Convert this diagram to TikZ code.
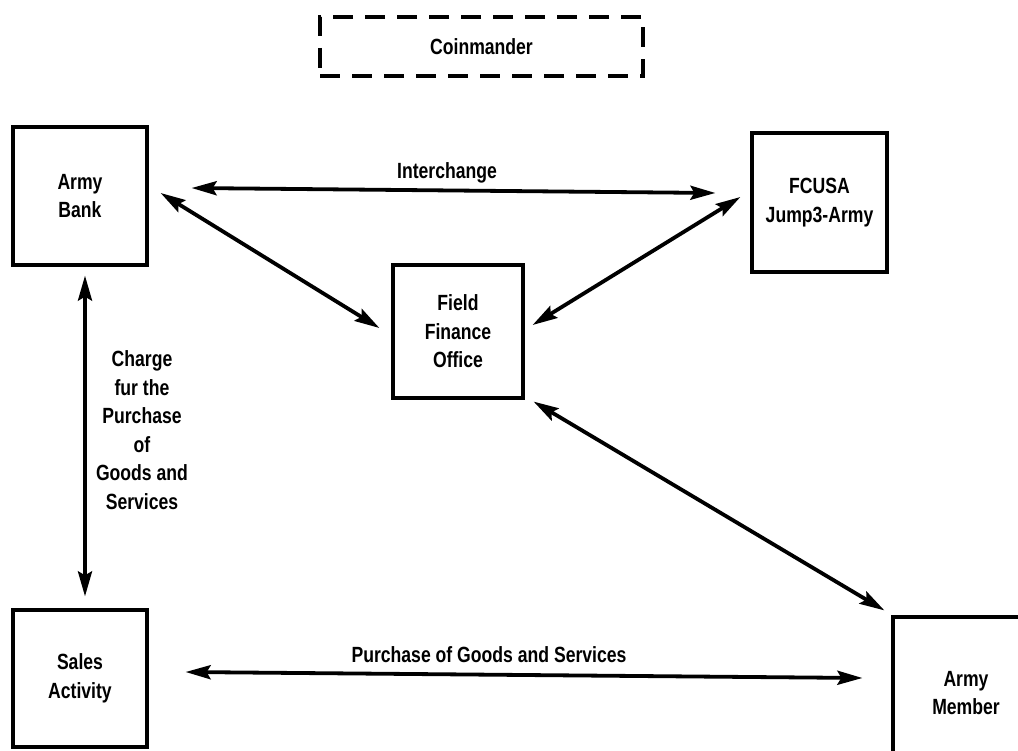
\documentclass[tikz,border=0pt]{standalone}
\usepackage{fontspec}
\newfontfamily\labfont{Liberation Sans}[FakeStretch=0.8]
\usetikzlibrary{arrows.meta}
\begin{document}
\begin{tikzpicture}[x=1pt,y=-1pt,
  lab/.style={font=\labfont\bfseries\fontsize{22}{28.5}\selectfont, align=center, inner sep=0pt},
  boxnode/.style={draw, line width=3.2pt, minimum width=134pt, minimum height=138pt, lab},
  arr/.style={line width=3.8pt, {Stealth[length=25pt,width=14pt,inset=4pt]}-{Stealth[length=25pt,width=14pt,inset=4pt]}}
]
\fill[white] (0,0) rectangle (1018,751);
\useasboundingbox (0,0) rectangle (1018,751);
\clip (0,0) rectangle (1018,751);

\node[boxnode, dash pattern=on 20pt off 12pt, minimum width=323pt, minimum height=59pt] (cmd) at (481.5,46.5) {Coinmander};
\node[boxnode] (bank) at (80,196) {Army\\Bank};
\node[boxnode, minimum width=135pt, minimum height=139pt] (fcusa) at (819.5,202.5) {FCUSA\\Jump3-Army};
\node[boxnode, minimum width=130pt, minimum height=133pt] (ffo) at (458,331.5) {Field\\Finance\\Office};
\node[boxnode, minimum width=134pt, minimum height=137pt] (sales) at (80,678.5) {Sales\\Activity};
\node[boxnode, minimum width=146pt, minimum height=152pt] (member) at (966,693) {Army\\Member};

\draw[arr] ([shift={(43,-8)}]bank.east) -- ([shift={(-35,-9.5)}]fcusa.west);
\draw[arr] ([shift={(12,-3)}]bank.east) -- ([shift={(-12,-3.5)}]ffo.west);
\draw[arr] ([shift={(-10,-5.5)}]fcusa.west) -- ([shift={(8,-6.5)}]ffo.east);
\draw[arr] ([shift={(9,2)}]ffo.south east) -- ([shift={(-7,-5)}]member.north west);
\draw[arr] ([shift={(5,9)}]bank.south) -- ([shift={(5,-12)}]sales.north);
\draw[arr] ([shift={(37,-6.5)}]sales.east) -- ([shift={(-29,-15)}]member.west);

\node[lab] (lint) at (447,173) {Interchange};
\node[lab] (lpur) at (489,655) {Purchase of Goods and Services};
\node[lab] (lchg) at (142,430) {Charge\\fur the\\Purchase\\of\\Goods and\\Services};
\end{tikzpicture}
\end{document}
